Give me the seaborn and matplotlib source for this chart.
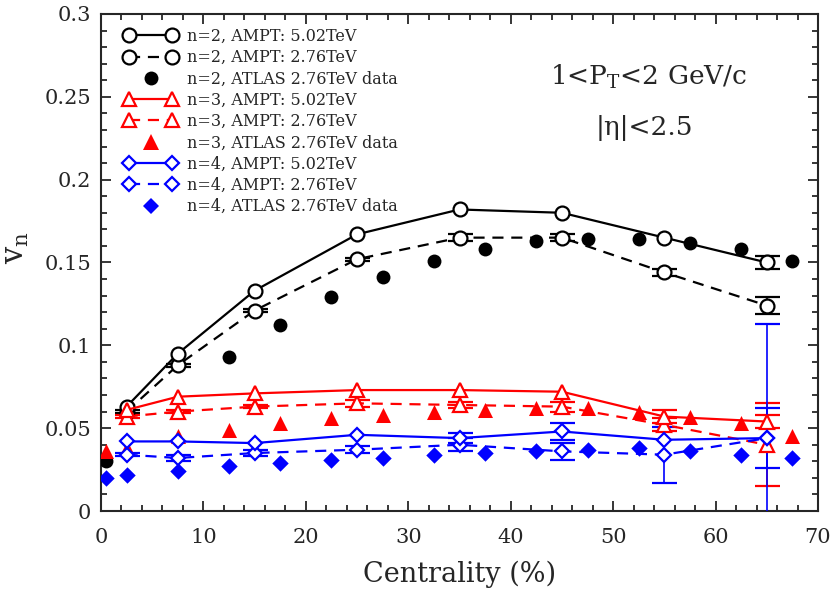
import matplotlib
matplotlib.use("Agg")
import matplotlib.pyplot as plt
import seaborn as sns
import numpy as np
import pandas as pd
from matplotlib.lines import Line2D
from matplotlib.legend_handler import HandlerLine2D
from matplotlib.ticker import MultipleLocator

# AMPT centrality bins
cent_ampt = [2.5, 7.5, 15, 25, 35, 45, 55, 65]
# ATLAS data centrality bins
cent_atlas = [0.5, 2.5, 7.5, 12.5, 17.5, 22.5, 27.5, 32.5, 37.5, 42.5, 47.5, 52.5, 57.5, 62.5, 67.5]

# errors of 0 = no visible error bar
v2_502 = [0.063, 0.095, 0.133, 0.167, 0.182, 0.180, 0.165, 0.150]
v2_502_err = [0, 0, 0, 0, 0, 0, 0, 0.004]
v2_276 = [0.060, 0.088, 0.121, 0.152, 0.165, 0.165, 0.144, 0.124]
v2_276_err = [0.001, 0.001, 0.001, 0.001, 0.002, 0.002, 0.002, 0.005]
v2_atlas = [0.030, 0.061, 0.089, 0.093, 0.112, 0.129, 0.141, 0.151, 0.158, 0.163, 0.164, 0.164, 0.162, 0.158, 0.151]

v3_502 = [0.061, 0.069, 0.071, 0.073, 0.073, 0.072, 0.057, 0.054]
v3_502_err = [0, 0, 0, 0, 0, 0, 0.004, 0.004]
v3_276 = [0.057, 0.060, 0.063, 0.065, 0.064, 0.063, 0.052, 0.040]
v3_276_err = [0.001, 0.001, 0.001, 0.002, 0.002, 0.003, 0.004, 0.025]
v3_atlas = [0.036, 0.038, 0.045, 0.049, 0.053, 0.056, 0.058, 0.060, 0.061, 0.062, 0.062, 0.060, 0.057, 0.053, 0.045]

v4_502 = [0.042, 0.042, 0.041, 0.046, 0.044, 0.048, 0.043, 0.044]
v4_502_err = [0, 0, 0, 0, 0.003, 0.005, 0, 0.018]
v4_276 = [0.034, 0.032, 0.035, 0.037, 0.040, 0.036, 0.034, 0.044]
v4_276_err = [0.001, 0.002, 0.002, 0.002, 0.004, 0.005, 0.017, 0.069]
v4_atlas = [0.020, 0.022, 0.024, 0.027, 0.029, 0.031, 0.032, 0.034, 0.035, 0.036, 0.037, 0.038, 0.036, 0.034, 0.032]

sns.set_style("ticks")
plt.rcParams["font.family"] = ["DejaVu Serif", "DejaVu Sans"]
plt.rcParams["mathtext.fontset"] = "dejavuserif"

fig, ax = plt.subplots(figsize=(8.31, 5.92), dpi=100)
fig.subplots_adjust(left=0.1215, right=0.9844, bottom=0.1368, top=0.9764)

ampt = [
    (v2_502, v2_502_err, v2_276, v2_276_err, "black", "o", 10),
    (v3_502, v3_502_err, v3_276, v3_276_err, "red", "^", 10.5),
    (v4_502, v4_502_err, v4_276, v4_276_err, "blue", "D", 7.5),
]
atlas = [(v2_atlas, "black", "o", 100), (v3_atlas, "red", "^", 117), (v4_atlas, "blue", "D", 70)]

for vals, col, mk, sz in atlas:
    d = pd.DataFrame({"cent": cent_atlas, "v": vals})
    sns.scatterplot(data=d, x="cent", y="v", color=col, marker=mk, s=sz,
                    edgecolor=col, linewidth=0, ax=ax, zorder=3, legend=False)

dash = (0, (5, 3.5))
for y5, e5, y2, e2, col, mk, ms in ampt:
    for y, e, ls in [(y2, e2, dash), (y5, e5, "-")]:
        err = np.where(np.array(e) > 0, e, np.nan)
        ax.errorbar(cent_ampt, y, yerr=err, color=col, ls=ls, lw=1.6,
                    marker=mk, ms=ms, mfc="white", mec=col, mew=1.6,
                    capsize=9, elinewidth=1.2, capthick=1.6, zorder=4)

ax.set_xlim(0, 70)
ax.set_ylim(0, 0.3)
ax.xaxis.set_major_locator(MultipleLocator(10))
ax.xaxis.set_minor_locator(MultipleLocator(2))
ax.yaxis.set_minor_locator(MultipleLocator(0.01))
ax.set_yticks([0, 0.05, 0.1, 0.15, 0.2, 0.25, 0.3])
ax.set_yticklabels(["0", "0.05", "0.1", "0.15", "0.2", "0.25", "0.3"])
ax.tick_params(which="both", direction="in", top=True, right=True, labelsize=15, width=1.3)
ax.tick_params(which="major", length=7)
ax.tick_params(which="minor", length=4.5)
ax.tick_params(axis="x", which="major", pad=12)
ax.tick_params(axis="y", which="major", pad=7)
for s in ax.spines.values():
    s.set_linewidth(1.5)

ax.set_xlabel("Centrality (%)", fontsize=19.5, labelpad=10)
ax.set_ylabel(r"v$_\mathregular{n}$", fontsize=22)
ax.yaxis.set_label_coords(-0.097, 0.53)

ax.text(53.5, 0.262, r"1<P$_\mathregular{T}$<2 GeV/c", fontsize=19, ha="center", va="center")
ax.text(53.0, 0.231, "|η|<2.5", fontsize=19, ha="center", va="center")

labels = ["n=2, AMPT: 5.02TeV", "n=2, AMPT: 2.76TeV", "n=2, ATLAS 2.76TeV data",
          "n=3, AMPT: 5.02TeV", "n=3, AMPT: 2.76TeV", "n=3, ATLAS 2.76TeV data",
          "n=4, AMPT: 5.02TeV", "n=4, AMPT: 2.76TeV", "n=4, ATLAS 2.76TeV data"]
handles = []
hmap = {}
for (y5, e5, y2, e2, col, mk, ms), (va, _, _, sz) in zip(ampt, atlas):
    h1 = Line2D([], [], color=col, ls="-", lw=1.6, marker=mk, ms=ms, mfc="white", mec=col, mew=1.6)
    h2 = Line2D([], [], color=col, ls=dash, lw=1.6, marker=mk, ms=ms, mfc="white", mec=col, mew=1.6)
    h3 = Line2D([], [], color=col, ls="none", marker=mk, ms=sz ** 0.5, mfc=col, mec=col, mew=0)
    hmap[h3] = HandlerLine2D(numpoints=1)
    handles += [h1, h2, h3]
ax.legend(handles, labels, loc="upper left", bbox_to_anchor=(0.024, 0.985), frameon=False,
          fontsize=11.5, numpoints=2, handlelength=3.25, labelspacing=0.27,
          handletextpad=0.65, borderaxespad=0, handler_map=hmap)

fig.savefig("out.png", dpi=100)
